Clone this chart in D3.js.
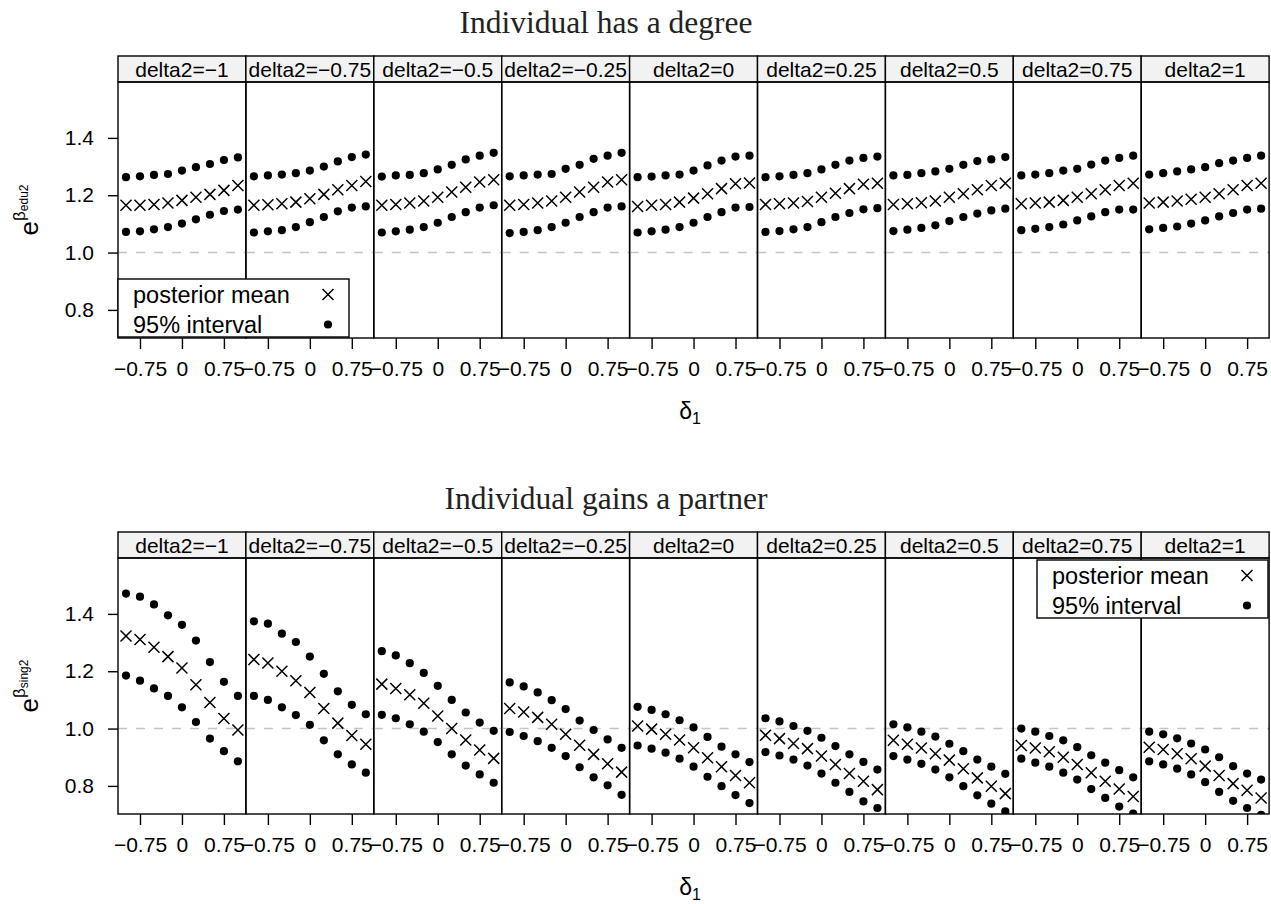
<!DOCTYPE html>
<html>
<head>
<meta charset="utf-8">
<script src="https://cdn.jsdelivr.net/npm/d3@7"></script>
<style>
  body { margin: 0; background: #fff; }
  text { font-family: "Liberation Sans", Arial, sans-serif; }
</style>
</head>
<body>
<svg id="chart"></svg>
<script>
// Variables
var width = 1271;
var height = 904;

// delta2 panels and delta1 grid
var delta2 = [-1, -0.75, -0.5, -0.25, 0, 0.25, 0.5, 0.75, 1];
var delta1 = [-1, -0.75, -0.5, -0.25, 0, 0.25, 0.5, 0.75, 1];
var xTicks = [-0.75, 0, 0.75];
var yTicks = [0.8, 1.0, 1.2, 1.4];

// "Individual has a degree": one row per delta2 panel
var eduUpper = [
  [1.263, 1.266, 1.271, 1.274, 1.286, 1.298, 1.309, 1.323, 1.332],
  [1.266, 1.269, 1.272, 1.277, 1.286, 1.300, 1.318, 1.333, 1.342],
  [1.265, 1.269, 1.271, 1.277, 1.290, 1.306, 1.325, 1.338, 1.348],
  [1.266, 1.269, 1.272, 1.274, 1.292, 1.306, 1.327, 1.338, 1.348],
  [1.263, 1.265, 1.269, 1.272, 1.286, 1.304, 1.321, 1.335, 1.338],
  [1.263, 1.266, 1.271, 1.277, 1.290, 1.306, 1.321, 1.330, 1.335],
  [1.269, 1.271, 1.277, 1.283, 1.292, 1.306, 1.319, 1.325, 1.333],
  [1.269, 1.272, 1.277, 1.286, 1.292, 1.307, 1.321, 1.330, 1.338],
  [1.272, 1.277, 1.283, 1.290, 1.298, 1.312, 1.321, 1.330, 1.338]
];
var eduMean = [
  [1.165, 1.165, 1.168, 1.173, 1.182, 1.193, 1.203, 1.217, 1.234],
  [1.165, 1.167, 1.170, 1.176, 1.188, 1.203, 1.219, 1.234, 1.248],
  [1.165, 1.168, 1.173, 1.180, 1.193, 1.211, 1.228, 1.246, 1.254],
  [1.165, 1.168, 1.173, 1.180, 1.193, 1.211, 1.228, 1.246, 1.254],
  [1.161, 1.165, 1.168, 1.176, 1.190, 1.205, 1.223, 1.240, 1.243],
  [1.168, 1.170, 1.173, 1.178, 1.193, 1.207, 1.223, 1.238, 1.242],
  [1.168, 1.170, 1.174, 1.180, 1.193, 1.205, 1.219, 1.234, 1.242],
  [1.170, 1.173, 1.176, 1.182, 1.193, 1.205, 1.219, 1.234, 1.242],
  [1.173, 1.176, 1.180, 1.186, 1.193, 1.205, 1.219, 1.234, 1.242]
];
var eduLower = [
  [1.072, 1.074, 1.081, 1.089, 1.101, 1.116, 1.132, 1.145, 1.150],
  [1.070, 1.074, 1.078, 1.089, 1.106, 1.124, 1.144, 1.157, 1.161],
  [1.070, 1.074, 1.080, 1.089, 1.104, 1.124, 1.141, 1.157, 1.165],
  [1.068, 1.072, 1.078, 1.089, 1.104, 1.124, 1.141, 1.157, 1.161],
  [1.070, 1.074, 1.080, 1.089, 1.104, 1.124, 1.141, 1.157, 1.159],
  [1.072, 1.075, 1.081, 1.089, 1.106, 1.124, 1.138, 1.151, 1.155],
  [1.075, 1.080, 1.086, 1.095, 1.110, 1.124, 1.136, 1.147, 1.153],
  [1.078, 1.083, 1.089, 1.098, 1.112, 1.126, 1.141, 1.150, 1.150],
  [1.081, 1.086, 1.091, 1.101, 1.112, 1.126, 1.138, 1.150, 1.153]
];

// "Individual gains a partner"
var singUpper = [
  [1.471, 1.460, 1.433, 1.395, 1.362, 1.307, 1.232, 1.163, 1.114],
  [1.374, 1.366, 1.331, 1.302, 1.251, 1.191, 1.130, 1.083, 1.050],
  [1.270, 1.255, 1.228, 1.194, 1.149, 1.100, 1.056, 1.021, 0.992],
  [1.161, 1.147, 1.126, 1.099, 1.068, 1.028, 0.995, 0.962, 0.933],
  [1.076, 1.065, 1.050, 1.029, 1.004, 0.971, 0.937, 0.910, 0.883],
  [1.036, 1.025, 1.009, 0.992, 0.968, 0.939, 0.910, 0.884, 0.857],
  [1.015, 1.004, 0.989, 0.972, 0.947, 0.921, 0.892, 0.867, 0.842],
  [1.000, 0.989, 0.974, 0.959, 0.935, 0.907, 0.881, 0.855, 0.830],
  [0.989, 0.980, 0.966, 0.948, 0.927, 0.900, 0.869, 0.843, 0.822]
];
var singMean = [
  [1.323, 1.311, 1.284, 1.251, 1.211, 1.153, 1.091, 1.035, 0.995],
  [1.241, 1.229, 1.200, 1.167, 1.126, 1.070, 1.019, 0.976, 0.945],
  [1.155, 1.140, 1.118, 1.088, 1.044, 1.000, 0.960, 0.925, 0.896],
  [1.070, 1.058, 1.039, 1.015, 0.980, 0.942, 0.910, 0.877, 0.848],
  [1.009, 0.998, 0.980, 0.960, 0.933, 0.898, 0.867, 0.836, 0.811],
  [0.977, 0.965, 0.948, 0.930, 0.904, 0.875, 0.843, 0.816, 0.787],
  [0.959, 0.945, 0.932, 0.912, 0.890, 0.860, 0.828, 0.799, 0.773],
  [0.941, 0.932, 0.919, 0.900, 0.875, 0.846, 0.816, 0.789, 0.763],
  [0.935, 0.927, 0.912, 0.895, 0.869, 0.836, 0.808, 0.785, 0.758]
];
var singLower = [
  [1.185, 1.167, 1.140, 1.114, 1.074, 1.023, 0.965, 0.921, 0.886],
  [1.114, 1.100, 1.074, 1.047, 1.013, 0.959, 0.910, 0.875, 0.846],
  [1.048, 1.036, 1.015, 0.989, 0.953, 0.910, 0.871, 0.840, 0.811],
  [0.988, 0.974, 0.956, 0.933, 0.904, 0.865, 0.830, 0.802, 0.769],
  [0.941, 0.930, 0.916, 0.895, 0.867, 0.832, 0.799, 0.768, 0.740],
  [0.918, 0.906, 0.892, 0.871, 0.843, 0.811, 0.779, 0.746, 0.723],
  [0.904, 0.892, 0.877, 0.857, 0.830, 0.799, 0.767, 0.738, 0.711],
  [0.895, 0.881, 0.867, 0.846, 0.822, 0.789, 0.758, 0.728, 0.703],
  [0.886, 0.875, 0.860, 0.840, 0.813, 0.779, 0.748, 0.723, 0.699]
];

var legendLabels = ['posterior mean', '95% interval'];

// layout
var left = 118, panelW = 127.9, stripH = 26, plotH = 256;
var xDomain = [-1.143, 1.143];
var yDomain = [0.702, 1.595];
var tickFont = '21px';

var svg = d3.select('#chart')
  .attr('width', width)
  .attr('height', height);

var minus = function (d) {
  return d < 0 ? '\u2212' + Math.abs(d) : String(d);
};

var blocks = [
  { top: 56, title: 'Individual has a degree', sub: 'edu2',
    upper: eduUpper, mean: eduMean, lower: eduLower,
    legend: { x: 118, y: 279 } },
  { top: 532, title: 'Individual gains a partner', sub: 'sing2',
    upper: singUpper, mean: singMean, lower: singLower,
    legend: { x: 1037, y: 560 } }
];

blocks.forEach(function (b, bi) {
  var g = svg.append('g');
  var plotTop = b.top + stripH;
  var plotBottom = plotTop + plotH;

  var y = d3.scaleLinear().domain(yDomain).range([plotBottom, plotTop]);

  // title
  g.append('text')
    .attr('x', 606)
    .attr('y', b.top - 23)
    .attr('text-anchor', 'middle')
    .style('font-family', '"Liberation Serif", "DejaVu Serif", serif')
    .style('font-size', '31.5px')
    .style('fill', '#222')
    .text(b.title);

  // y axis
  var yAxis = g.append('g')
    .attr('transform', 'translate(' + left + ',0)')
    .call(d3.axisLeft(y).tickValues(yTicks).tickFormat(d3.format('.1f'))
      .tickSize(10).tickPadding(14).tickSizeOuter(0));
  yAxis.select('.domain').remove();
  yAxis.selectAll('text').style('font-size', tickFont).style('font-family', '"Liberation Sans", Arial, sans-serif');
  yAxis.selectAll('line').style('stroke-width', 1.4);

  // y label e^{beta_sub}
  var yl = g.append('text')
    .attr('transform', 'translate(38,' + ((plotTop + plotBottom) / 2) + ') rotate(-90)')
    .attr('text-anchor', 'middle')
    .style('font-size', '26px');
  yl.append('tspan').text('e');
  yl.append('tspan').attr('dy', -13).style('font-size', '17px').text('\u03b2');
  yl.append('tspan').attr('dy', 3).style('font-size', '12px').text(b.sub);

  // x label
  var xl = g.append('text')
    .attr('x', 690)
    .attr('y', plotBottom + 81)
    .attr('text-anchor', 'middle')
    .style('font-size', '23px');
  xl.append('tspan').text('\u03b4');
  xl.append('tspan').attr('dy', 5).style('font-size', '16px').text('1');

  delta2.forEach(function (d2, pi) {
    var px = left + pi * panelW;
    var x = d3.scaleLinear().domain(xDomain).range([px, px + panelW]);
    var pg = g.append('g');
    var clipId = 'clip' + bi + '_' + pi;

    pg.append('clipPath').attr('id', clipId)
      .append('rect')
      .attr('x', px).attr('y', plotTop)
      .attr('width', panelW).attr('height', plotH);

    // strip
    pg.append('rect')
      .attr('x', px).attr('y', b.top)
      .attr('width', panelW).attr('height', stripH)
      .style('fill', '#f2f2f2')
      .style('stroke', '#000')
      .style('stroke-width', 1.4);
    pg.append('text')
      .attr('x', px + panelW / 2)
      .attr('y', b.top + 20.5)
      .attr('text-anchor', 'middle')
      .style('font-size', '21px')
      .text('delta2=' + minus(d2));

    var inner = pg.append('g').attr('clip-path', 'url(#' + clipId + ')');

    // reference line at 1
    inner.append('line')
      .attr('x1', px).attr('x2', px + panelW)
      .attr('y1', y(1)).attr('y2', y(1))
      .style('stroke', '#c4c4c4')
      .style('stroke-width', 1.5)
      .style('stroke-dasharray', '9,9');

    // interval dots
    [b.upper[pi], b.lower[pi]].forEach(function (vals) {
      inner.selectAll(null)
        .data(vals)
        .enter().append('circle')
        .attr('cx', function (d, i) { return x(delta1[i]); })
        .attr('cy', function (d) { return y(d); })
        .attr('r', 4.1)
        .style('fill', '#000');
    });

    // posterior mean crosses
    var s = 5.5;
    inner.selectAll(null)
      .data(b.mean[pi])
      .enter().append('path')
      .attr('d', function (d, i) {
        var cx = x(delta1[i]), cy = y(d);
        return 'M' + (cx - s) + ',' + (cy - s) + 'L' + (cx + s) + ',' + (cy + s) +
          'M' + (cx - s) + ',' + (cy + s) + 'L' + (cx + s) + ',' + (cy - s);
      })
      .style('stroke', '#000')
      .style('stroke-width', 1.5)
      .style('fill', 'none');

    // panel border
    pg.append('rect')
      .attr('x', px).attr('y', plotTop)
      .attr('width', panelW).attr('height', plotH)
      .style('fill', 'none')
      .style('stroke', '#000')
      .style('stroke-width', 1.4);

    // x axis
    var xAxis = pg.append('g')
      .attr('transform', 'translate(0,' + plotBottom + ')')
      .call(d3.axisBottom(x).tickValues(xTicks).tickFormat(minus)
        .tickSize(11).tickPadding(12).tickSizeOuter(0));
    xAxis.select('.domain').remove();
    xAxis.selectAll('text').style('font-size', tickFont).style('font-family', '"Liberation Sans", Arial, sans-serif');
    xAxis.selectAll('line').style('stroke-width', 1.4);
  });

  // legend
  var lg = g.append('g').attr('transform', 'translate(' + b.legend.x + ',' + b.legend.y + ')');
  lg.append('rect')
    .attr('width', 231).attr('height', 58)
    .style('fill', '#fff')
    .style('stroke', '#000')
    .style('stroke-width', 1.4);
  legendLabels.forEach(function (lab, i) {
    var cy = 15.5 + i * 30;
    lg.append('text')
      .attr('x', 15)
      .attr('y', cy + 8.5)
      .style('font-size', '23.5px')
      .text(lab);
    if (i === 0) {
      var s = 5.5, cx = 210;
      lg.append('path')
        .attr('d', 'M' + (cx - s) + ',' + (cy - s) + 'L' + (cx + s) + ',' + (cy + s) +
          'M' + (cx - s) + ',' + (cy + s) + 'L' + (cx + s) + ',' + (cy - s))
        .style('stroke', '#000').style('stroke-width', 1.5);
    } else {
      lg.append('circle').attr('cx', 210).attr('cy', cy).attr('r', 4.1).style('fill', '#000');
    }
  });
});
</script>
</body>
</html>
